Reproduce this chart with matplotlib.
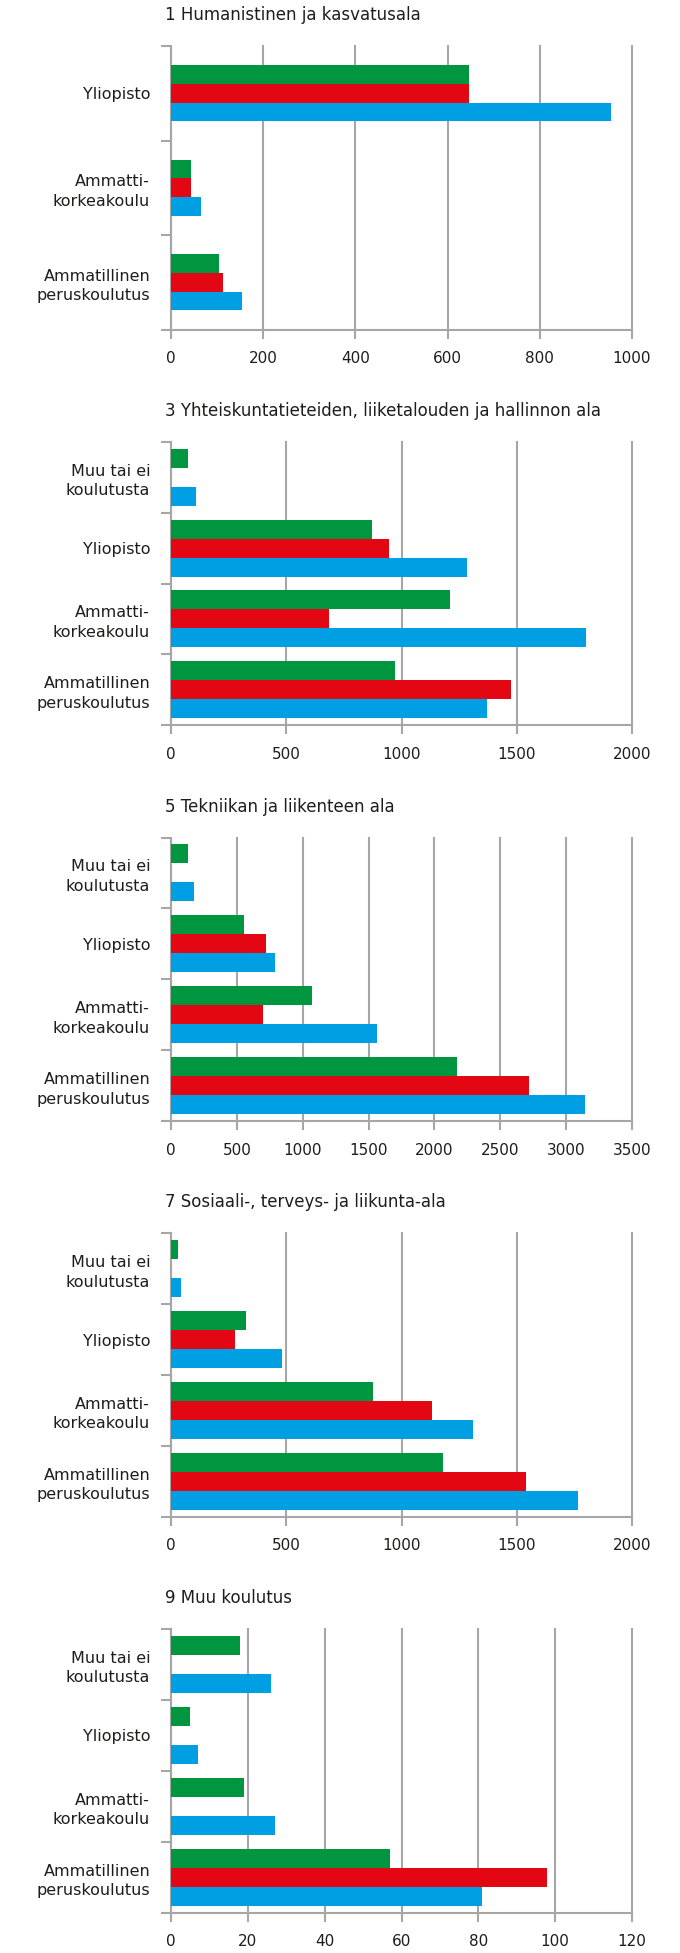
import matplotlib.pyplot as plt
import numpy as np

plt.rcParams['font.family'] = ['DejaVu Sans']

# education levels, bottom to top
levels4 = ['Ammatillinen\nperuskoulutus', 'Ammatti-\nkorkeakoulu', 'Yliopisto', 'Muu tai ei\nkoulutusta']
levels3 = levels4[:3]

titles = [
    '1 Humanistinen ja kasvatusala',
    '3 Yhteiskuntatieteiden, liiketalouden ja hallinnon ala',
    '5 Tekniikan ja liikenteen ala',
    '7 Sosiaali-, terveys- ja liikunta-ala',
    '9 Muu koulutus',
]

# three series per field: green / red / blue (0 = no bar)
green = [
    [104, 43, 647],
    [972, 1211, 872, 73],
    [2172, 1071, 554, 129],
    [1181, 876, 326, 30],
    [57, 19, 5, 18],
]
red = [
    [113, 43, 647],
    [1476, 685, 945, 0],
    [2719, 695, 718, 0],
    [1540, 1132, 277, 0],
    [98, 0, 0, 0],
]
blue = [
    [153, 65, 955],
    [1371, 1802, 1284, 107],
    [3144, 1566, 788, 175],
    [1766, 1311, 482, 43],
    [81, 27, 7, 26],
]

xmax = [1000, 2000, 3500, 2000, 120]
xstep = [200, 500, 500, 500, 20]

GREEN = '#009640'
RED = '#e30613'
BLUE = '#009fe3'
GRID = '#a6a6a6'
TEXT = '#1d1d1b'
FS = 11.5

W, H = 680, 1953
fig = plt.figure(figsize=(W / 100, H / 100), dpi=100)

ax_left, ax_right = 171, 632
first_top, panel_h, spacing = 46, 283.5, 395.75

for i in range(5):
    top = first_top + i * spacing
    ax = fig.add_axes([ax_left / W, 1 - (top + panel_h) / H,
                       (ax_right - ax_left) / W, panel_h / H])
    cats = levels3 if i == 0 else levels4
    n = len(cats)
    y = np.arange(n)
    h = 0.197 if n == 3 else 0.268

    ax.barh(y + h, green[i], height=h, color=GREEN, zorder=3)
    ax.barh(y, red[i], height=h, color=RED, zorder=3)
    ax.barh(y - h, blue[i], height=h, color=BLUE, zorder=3)

    ax.set_xlim(0, xmax[i])
    ax.set_ylim(-0.5, n - 0.5)
    ax.set_xticks(np.arange(0, xmax[i] + 1, xstep[i]))
    ax.set_yticks(y)
    ax.set_yticklabels(cats)
    ax.set_yticks(np.arange(n + 1) - 0.5, minor=True)

    ax.xaxis.grid(True, color=GRID, lw=1.5, zorder=0)
    for gl in ax.get_xgridlines():
        gl.set_clip_on(False)
    ax.set_axisbelow(True)

    for s in ['top', 'right']:
        ax.spines[s].set_visible(False)
    for s in ['left', 'bottom']:
        ax.spines[s].set_color(GRID)
        ax.spines[s].set_linewidth(1.5)

    ax.tick_params(axis='x', length=6.5, width=1.5, color=GRID, pad=9,
                   labelsize=11, labelcolor=TEXT)
    ax.tick_params(axis='y', which='major', length=0, pad=15,
                   labelsize=FS, labelcolor=TEXT)
    ax.tick_params(axis='y', which='minor', length=7, width=1.5, color=GRID)
    for lab in ax.get_yticklabels():
        lab.set_linespacing(1.38)

    fig.text(165 / W, 1 - (15 + i * spacing) / H, titles[i], fontsize=12,
             color=TEXT, ha='left', va='center')

fig.savefig('out.png', dpi=100)
